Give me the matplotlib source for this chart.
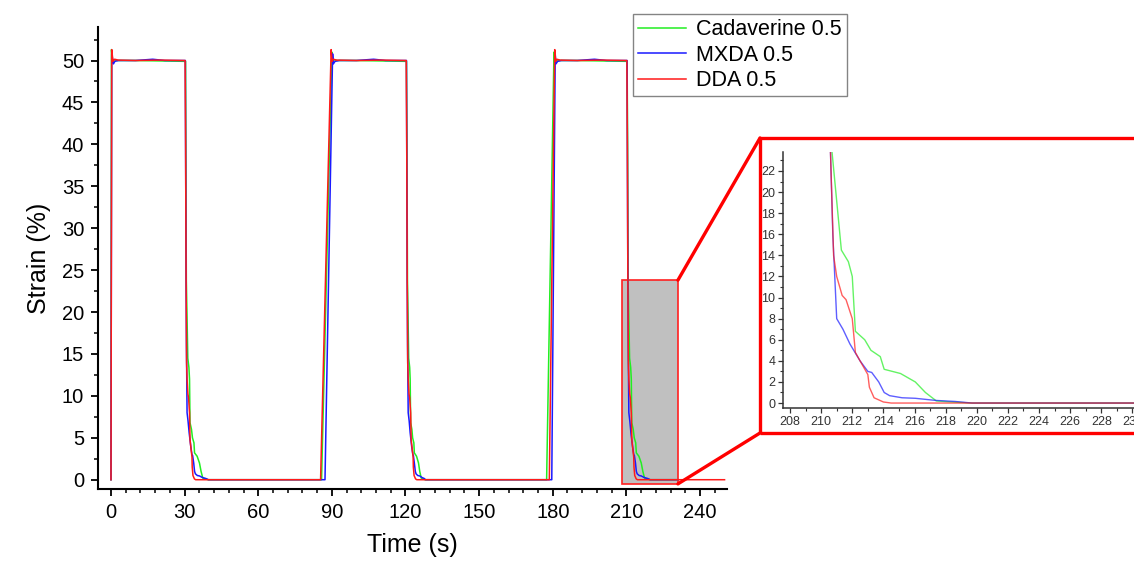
import matplotlib.pyplot as plt
import numpy as np
from matplotlib.patches import Rectangle, ConnectionPatch
from matplotlib.ticker import MultipleLocator

plt.rcParams['font.family'] = ['Liberation Sans', 'DejaVu Sans']

# Cadaverine 0.5 (green)
cad_t = [0, 0.2, 0.6, 1.2, 2.5, 10, 20, 30.4,
         30.5, 30.7, 31.3, 31.75, 32.0, 32.2, 32.8, 33.2, 33.8, 34.05, 35.1, 36.05, 36.7, 37.4, 38.4, 39.7,
         85.8, 90.0, 90.3, 90.9, 92.0, 100, 110, 120.4,
         120.6, 120.8, 121.3, 121.7, 121.9, 122.1, 122.6, 122.9, 123.4, 123.6, 124.5, 125.3, 125.8, 126.4, 127.0, 128.0,
         177.5, 180.5, 180.8, 181.4, 182.5, 190, 200, 210.3,
         210.5, 210.7, 211.3, 211.75, 212.0, 212.2, 212.8, 213.2, 213.8, 214.05, 215.1, 216.05, 216.7, 217.4, 218.4, 219.7,
         231]
cad_y = [0, 51.3, 49.9, 50.1, 50.0, 50.0, 49.95, 49.9,
         40, 23.8, 14.5, 13.4, 12.0, 6.8, 6.0, 5.0, 4.4, 3.2, 2.8, 2.0, 1.0, 0.2, 0.1, 0,
         0, 51.0, 49.8, 50.1, 50.0, 50.0, 49.95, 49.9,
         40, 23.8, 14.5, 13.4, 12.0, 6.8, 6.0, 5.0, 4.4, 3.2, 2.8, 2.0, 1.0, 0.2, 0.1, 0,
         0, 51.0, 49.8, 50.1, 50.0, 50.0, 49.95, 49.9,
         40, 23.8, 14.5, 13.4, 12.0, 6.8, 6.0, 5.0, 4.4, 3.2, 2.8, 2.0, 1.0, 0.2, 0.1, 0,
         0]

# MXDA 0.5 (blue)
mxda_t = [0, 0.3, 1.0, 1.6, 3, 10, 17, 22, 30.3,
          30.4, 30.6, 30.75, 31.0, 31.4, 31.85, 32.5, 33.0, 33.25, 33.7, 34.05, 34.4, 35.2, 36.05, 37.35, 38.6, 39.7,
          87.2, 90.3, 90.6, 91.3, 93, 100, 107, 112, 120.4,
          120.5, 120.7, 120.85, 121.1, 121.5, 121.9, 122.5, 123.0, 123.2, 123.6, 124.0, 124.3, 125.0, 125.8, 126.8, 127.6, 128.2,
          179.6, 181.0, 181.3, 182.0, 183.5, 190, 197, 202, 210.3,
          210.4, 210.6, 210.75, 211.0, 211.4, 211.85, 212.5, 213.0, 213.25, 213.7, 214.05, 214.4, 215.2, 216.05, 217.35, 218.6, 219.7,
          231]
mxda_y = [0, 50.8, 49.6, 49.9, 50.0, 50.0, 50.15, 50.0, 50.0,
          40, 23.8, 16, 8, 7, 5.6, 4, 3, 2.9, 2, 1, 0.7, 0.5, 0.45, 0.25, 0.15, 0,
          0, 50.8, 49.6, 49.9, 50.0, 50.0, 50.15, 50.0, 50.0,
          40, 23.8, 16, 8, 7, 5.6, 4, 3, 2.9, 2, 1, 0.7, 0.5, 0.45, 0.25, 0.15, 0,
          0, 50.8, 49.6, 49.9, 50.0, 50.0, 50.15, 50.0, 50.0,
          40, 23.8, 16, 8, 7, 5.6, 4, 3, 2.9, 2, 1, 0.7, 0.5, 0.45, 0.25, 0.15, 0,
          0]

# DDA 0.5 (red)
dda_t = [0, 0.3, 0.8, 1.5, 3, 10, 20, 30.2,
         30.4, 30.6, 30.8, 31.0, 31.35, 31.6, 32.0, 32.2, 32.5, 33.0, 33.1, 33.4, 34.0, 34.5,
         85.4, 89.7, 90.1, 90.6, 92, 100, 110, 120.3,
         120.5, 120.7, 120.9, 121.1, 121.45, 121.7, 122.1, 122.3, 122.6, 123.1, 123.2, 123.5, 124.1, 124.6,
         178.6, 180.8, 181.2, 181.7, 183, 190, 200, 210.2,
         210.4, 210.6, 210.8, 211.0, 211.35, 211.6, 212.0, 212.2, 212.5, 213.0, 213.1, 213.4, 214.0, 214.5,
         250]
dda_y = [0, 51.3, 49.9, 50.15, 50.05, 50.0, 50.05, 50.0,
         40, 23.8, 14, 12, 10.2, 9.8, 8, 4.8, 4, 2.7, 1.5, 0.5, 0.1, 0,
         0, 51.3, 49.9, 50.15, 50.05, 50.0, 50.05, 50.0,
         40, 23.8, 14, 12, 10.2, 9.8, 8, 4.8, 4, 2.7, 1.5, 0.5, 0.1, 0,
         0, 51.3, 49.9, 50.15, 50.05, 50.0, 50.05, 50.0,
         40, 23.8, 14, 12, 10.2, 9.8, 8, 4.8, 4, 2.7, 1.5, 0.5, 0.1, 0,
         0]

labels = ['Cadaverine 0.5', 'MXDA 0.5', 'DDA 0.5']
colors = ['#22ee22', '#1a1aff', '#ff1a1a']
series = [(cad_t, cad_y), (mxda_t, mxda_y), (dda_t, dda_y)]

zoom_x = (208.2, 231.0)
zoom_y = (-0.5, 23.8)

fig = plt.figure(figsize=(11.34, 5.62), dpi=100)

# red frame around the zoom panel (drawn first, behind everything)
fx0, fy0, fy1 = 760 / 1134, 1 - 433 / 562, 1 - 138 / 562
fig.add_artist(Rectangle((fx0, fy0), 0.5, fy1 - fy0, transform=fig.transFigure,
                         facecolor='none', edgecolor='#ff0000', lw=2.4, zorder=0))

ax = fig.add_axes([0.0864, 0.130, 0.5547, 0.822])

ax.add_patch(Rectangle((zoom_x[0], zoom_y[0]), zoom_x[1] - zoom_x[0], zoom_y[1] - zoom_y[0],
                       facecolor='#c0c0c0', edgecolor='#ff2020', lw=1.2, zorder=1))
for (t, y), c, lab in zip(series, colors, labels):
    ax.plot(t, y, color=c, lw=1.1, label=lab, zorder=2)

ax.set_xlim(-5.3, 251)
ax.set_ylim(-1.1, 54)
ax.xaxis.set_major_locator(MultipleLocator(30))
ax.xaxis.set_minor_locator(MultipleLocator(6))
ax.yaxis.set_major_locator(MultipleLocator(5))
ax.yaxis.set_minor_locator(MultipleLocator(2.5))
for s in ['top', 'right']:
    ax.spines[s].set_visible(False)
for s in ['left', 'bottom']:
    ax.spines[s].set_linewidth(1.5)
ax.tick_params(which='major', direction='out', length=5, width=1.3, labelsize=14.5, pad=5)
ax.tick_params(which='minor', direction='out', length=3, width=1.1)
ax.set_xlabel('Time (s)', fontsize=18, labelpad=8)
ax.set_ylabel('Strain (%)', fontsize=18, labelpad=8)

leg = ax.legend(loc='upper left', bbox_to_anchor=(0.558, 0.975), bbox_transform=fig.transFigure,
                fontsize=15.5, frameon=True, fancybox=False, edgecolor='#666666',
                handlelength=2.2, labelspacing=0.2, borderpad=0.25, handletextpad=0.5,
                borderaxespad=0)
leg.get_frame().set_linewidth(1.0)

axin = fig.add_axes([783 / 1134, 1 - 408 / 562, (1134 - 783) / 1134, (408 - 152) / 562])
for (t, y), c in zip(series, colors):
    axin.plot(t, y, color=c, lw=1.0, alpha=0.7)
axin.set_xlim(207.55, 230.1)
axin.set_ylim(-0.47, 23.8)
axin.xaxis.set_major_locator(MultipleLocator(2))
axin.xaxis.set_minor_locator(MultipleLocator(1))
axin.yaxis.set_major_locator(MultipleLocator(2))
axin.yaxis.set_minor_locator(MultipleLocator(1))
for s in ['top', 'right']:
    axin.spines[s].set_visible(False)
for s in ['left', 'bottom']:
    axin.spines[s].set_linewidth(1.1)
    axin.spines[s].set_color('#333333')
axin.tick_params(which='major', direction='out', length=3.5, width=0.9, labelsize=9,
                 colors='#333333', pad=2)
axin.tick_params(which='minor', direction='out', length=2, width=0.8, colors='#333333')
axin.patch.set_alpha(0)

for yd, yf in [(zoom_y[1], fy1), (zoom_y[0], fy0)]:
    con = ConnectionPatch(xyA=(zoom_x[1], yd), coordsA=ax.transData,
                          xyB=(fx0, yf), coordsB=fig.transFigure,
                          color='#ff0000', lw=2.4)
    fig.add_artist(con)

fig.savefig('out.png', dpi=100)
